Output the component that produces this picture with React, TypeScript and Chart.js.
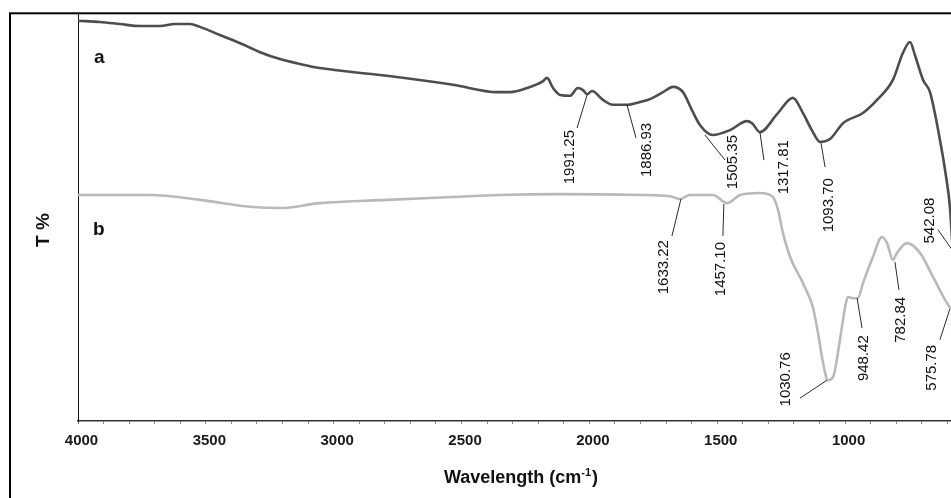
import React, { useEffect, useRef } from "react";
import { Chart, registerables } from "chart.js";

Chart.register(...registerables);

// ---------- data ----------
const X_RANGE = [400, 4000];
const Y_RANGE = [0, 100];
const MINOR_STEP = 100;
const MAJOR_STEP = 500;

const SERIES_NAMES = ["a", "b"];
const X_TITLE = "Wavelength (cm";
const X_TITLE_SUP = "-1";
const X_TITLE_END = ")";
const Y_TITLE = "T %";

// spectrum a (upper, dark)
const WN_A = [4000, 3914, 3836, 3758, 3679, 3621, 3562, 3523, 3445, 3366, 3288, 3210, 3132, 3054, 2792, 2533, 2361, 2310, 2244, 2181, 2166, 2142, 2115, 2076, 2045, 2025, 2009, 1990, 1947, 1908, 1853, 1802, 1763, 1712, 1673, 1634, 1599, 1567, 1517, 1450, 1384, 1364, 1333, 1266, 1204, 1165, 1130, 1098, 1059, 1008, 930, 875, 813, 774, 746, 727, 695, 668, 629, 606, 590, 578, 559, 531];
const T_A = [98.1, 97.8, 97.3, 96.8, 96.8, 97.3, 97.3, 96.6, 94.6, 92.6, 90.4, 88.7, 87.5, 86.5, 84.6, 82.4, 80.6, 80.6, 81.6, 83.3, 84.1, 81.6, 79.9, 79.7, 81.6, 81.1, 80.1, 80.9, 78.7, 77.5, 77.5, 78.2, 78.9, 80.6, 81.9, 80.6, 76.2, 72.5, 70.1, 71.3, 73.5, 73.0, 70.8, 75.2, 79.2, 75.5, 71.3, 68.4, 69.1, 73.0, 75.5, 78.7, 83.6, 90.2, 92.9, 89.7, 83.6, 80.6, 68.9, 60.3, 52.5, 40.7, 24.8, 10.0];

// spectrum b (lower, light)
const WN_B = [4000, 3718, 3523, 3327, 3210, 3054, 2792, 2533, 2350, 2115, 1802, 1685, 1645, 1607, 1517, 1462, 1411, 1333, 1282, 1262, 1243, 1215, 1165, 1126, 1106, 1086, 1067, 1047, 1020, 1000, 989, 969, 950, 930, 891, 856, 836, 813, 797, 758, 707, 656, 609, 590, 551, 492];
const T_B = [55.4, 55.4, 54.2, 52.5, 52.2, 53.4, 54.2, 54.9, 55.4, 55.6, 55.4, 55.1, 54.4, 55.4, 55.4, 53.4, 55.4, 55.9, 54.9, 51.7, 46.1, 40.2, 33.8, 27.9, 21.6, 14.2, 10.0, 10.8, 19.9, 27.9, 30.4, 30.1, 30.1, 33.8, 40.2, 45.1, 43.6, 39.5, 41.2, 43.6, 41.2, 35.3, 29.7, 27.9, 26.0, 24.3];

// peak annotations
const PEAK_LABELS_A = ["1991.25", "1886.93", "1505.35", "1317.81", "1093.70", "542.08"];
const PEAK_WN_A = [2009, 1853, 1548, 1333, 1094, 582];
const PEAK_T_A = [79.9, 77.5, 70.1, 70.8, 68.1, 42.0];
const PEAK_LABELS_B = ["1633.22", "1457.10", "1030.76", "948.42", "782.84", "575.78"];
const PEAK_WN_B = [1642, 1474, 1071, 953, 805, 590];
const PEAK_T_B = [54.4, 53.2, 10.0, 30.1, 39.0, 27.5];

// ---------- layout (pixels) ----------
const LEADER_A = [[-10, 33], [9, 33], [20, 25], [4, 28], [4, 24], [-14, -20]];
const TEXT_A = [[-17, 35], [20, 18], [28, 0], [24, 8], [8, 35], [-22, -52]];
const LEADER_B = [[-9, 37], [-1, 32], [-27, 18], [5, 30], [4, 28], [-10, 31]];
const TEXT_B = [[-17, 41], [-3, 38], [-41, -28], [7, 37], [6, 35], [-18, 36]];

const CANVAS_W = 1010;
const CANVAS_H = 520;
const FONT = '"Liberation Sans", Arial, Helvetica, sans-serif';

const overlayPlugin = {
  id: "overlay",
  afterDraw(chart: any) {
    const { ctx, chartArea } = chart;
    const xs = chart.scales.x;
    const ys = chart.scales.y;
    ctx.save();

    // outer frame
    ctx.strokeStyle = "#000";
    ctx.lineWidth = 2;
    ctx.strokeRect(10, 13.3, 3000, 3000);

    const drawSet = (labels: string[], wns: number[], ts: number[], leaders: number[][], texts: number[][]) => {
      labels.forEach((lab, i) => {
        const ax = xs.getPixelForValue(wns[i]);
        const ay = ys.getPixelForValue(ts[i]);
        ctx.beginPath();
        ctx.moveTo(ax, ay);
        ctx.lineTo(ax + leaders[i][0], ay + leaders[i][1]);
        ctx.strokeStyle = "#2a2a2a";
        ctx.lineWidth = 1;
        ctx.stroke();
        ctx.save();
        ctx.translate(ax + texts[i][0], ay + texts[i][1]);
        ctx.rotate(-Math.PI / 2);
        ctx.textAlign = "right";
        ctx.textBaseline = "middle";
        ctx.font = `15px ${FONT}`;
        ctx.fillStyle = "#111";
        ctx.fillText(lab, 0, 0);
        ctx.restore();
      });
    };
    drawSet(PEAK_LABELS_A, PEAK_WN_A, PEAK_T_A, LEADER_A, TEXT_A);
    drawSet(PEAK_LABELS_B, PEAK_WN_B, PEAK_T_B, LEADER_B, TEXT_B);

    // series tags
    ctx.font = `bold 19px ${FONT}`;
    ctx.fillStyle = "#111";
    ctx.textAlign = "left";
    ctx.textBaseline = "alphabetic";
    ctx.fillText(SERIES_NAMES[0], chartArea.left + 16, 63);
    ctx.fillText(SERIES_NAMES[1], chartArea.left + 15, 235);

    // y title
    ctx.save();
    ctx.translate(44, 230);
    ctx.rotate(-Math.PI / 2);
    ctx.textAlign = "center";
    ctx.textBaseline = "middle";
    ctx.font = `bold 19px ${FONT}`;
    ctx.fillText(Y_TITLE, 0, 0);
    ctx.restore();

    // x title with superscript
    const mainFont = `bold 18px ${FONT}`;
    const supFont = `bold 11px ${FONT}`;
    ctx.font = mainFont;
    const w1 = ctx.measureText(X_TITLE).width;
    const w3 = ctx.measureText(X_TITLE_END).width;
    ctx.font = supFont;
    const w2 = ctx.measureText(X_TITLE_SUP).width;
    const total = w1 + w2 + w3 + 1;
    let cx = 521 - total / 2;
    const by = 483;
    ctx.textAlign = "left";
    ctx.textBaseline = "alphabetic";
    ctx.font = mainFont;
    ctx.fillText(X_TITLE, cx, by);
    cx += w1;
    ctx.font = supFont;
    ctx.fillText(X_TITLE_SUP, cx, by - 7);
    cx += w2 + 1;
    ctx.font = mainFont;
    ctx.fillText(X_TITLE_END, cx, by);

    ctx.restore();
  },
};

export default function App() {
  const ref = useRef<HTMLCanvasElement | null>(null);

  useEffect(() => {
    if (!ref.current) return;
    const chart = new Chart(ref.current, {
      type: "line",
      data: {
        datasets: [
          {
            label: SERIES_NAMES[0],
            data: WN_A.map((w, i) => ({ x: w, y: T_A[i] })),
            borderColor: "#4d4d4d",
            borderWidth: 2.6,
            pointRadius: 0,
            cubicInterpolationMode: "monotone",
            fill: false,
          },
          {
            label: SERIES_NAMES[1],
            data: WN_B.map((w, i) => ({ x: w, y: T_B[i] })),
            borderColor: "#b9b9b9",
            borderWidth: 2.6,
            pointRadius: 0,
            cubicInterpolationMode: "monotone",
            fill: false,
          },
        ],
      },
      options: {
        animation: false,
        responsive: false,
        devicePixelRatio: 1,
        layout: { padding: { left: 0, top: 13, right: CANVAS_W - 998.5, bottom: 0 } },
        plugins: { legend: { display: false }, tooltip: { enabled: false } },
        scales: {
          x: {
            type: "linear",
            reverse: true,
            min: X_RANGE[0],
            max: X_RANGE[1],
            afterFit: (s: any) => {
              s.height = CANVAS_H - 421;
            },
            ticks: {
              stepSize: MINOR_STEP,
              autoSkip: false,
              maxRotation: 0,
              labelOffset: 3.5,
              padding: 8,
              color: "#1a1a1a",
              font: { family: FONT, size: 15, weight: "bold" },
              callback: (v: any) => (Number(v) % MAJOR_STEP === 0 ? String(v) : ""),
            },
            grid: {
              drawOnChartArea: false,
              drawTicks: true,
              tickLength: 3,
              color: "#8a8a8a",
              lineWidth: 1,
            },
            border: { display: true, color: "#333", width: 1.5 },
          },
          y: {
            min: Y_RANGE[0],
            max: Y_RANGE[1],
            afterFit: (s: any) => {
              s.width = 78;
            },
            ticks: { display: false },
            grid: { display: false },
            border: { display: true, color: "#111", width: 1 },
          },
        },
      },
      plugins: [overlayPlugin],
    } as any);
    return () => chart.destroy();
  }, []);

  return (
    <div
      style={{
        position: "fixed",
        left: 0,
        top: 0,
        width: 951,
        height: 498,
        overflow: "hidden",
        background: "#fff",
      }}
    >
      <canvas
        ref={ref}
        width={CANVAS_W}
        height={CANVAS_H}
        style={{ display: "block", width: CANVAS_W, height: CANVAS_H }}
      />
    </div>
  );
}
